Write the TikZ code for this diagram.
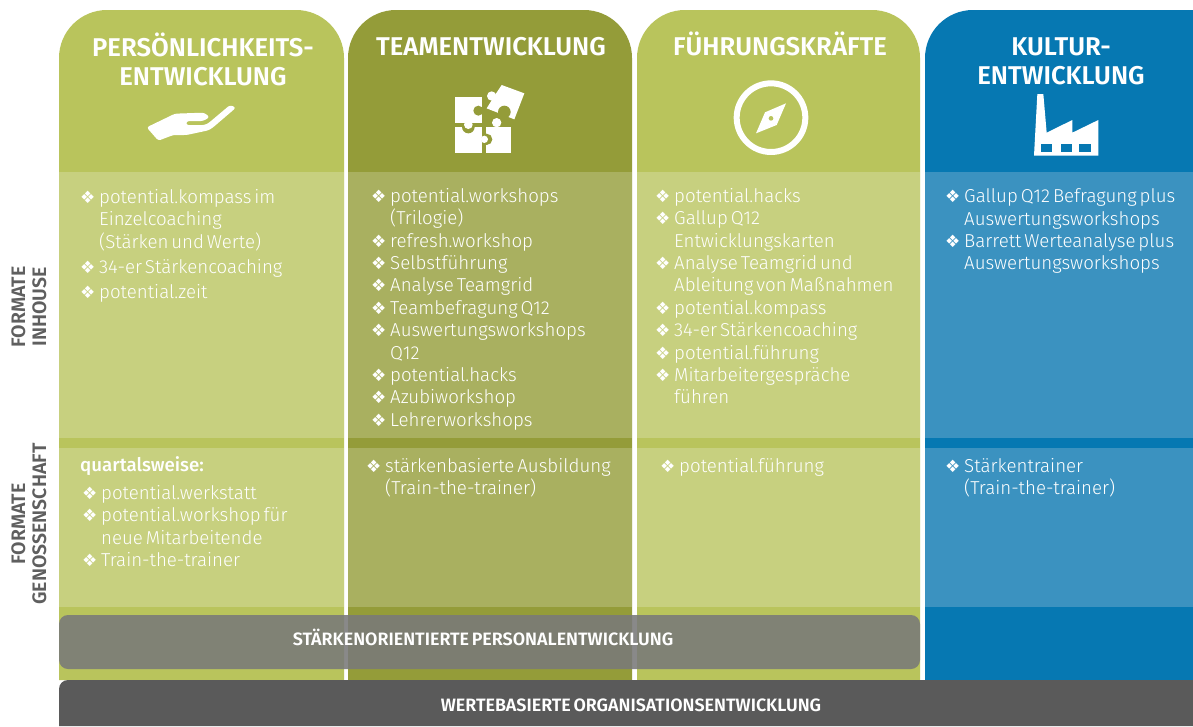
\documentclass[tikz,border=0pt]{standalone}
\usepackage{fontspec}
\setmainfont{Fira Sans Light}[BoldFont={Fira Sans Medium},WordSpace=0.55]
\newfontfamily\headfont{Fira Sans SemiBold}[WordSpace=0.6]
\newfontfamily\dv{DejaVu Sans}
\definecolor{gA}{HTML}{B9C45C}
\definecolor{gApale}{HTML}{C7D07F}
\definecolor{gB}{HTML}{949C39}
\definecolor{gBpale}{HTML}{A9B060}
\definecolor{bC}{HTML}{0678B2}
\definecolor{bCpale}{HTML}{3B92C0}
\definecolor{barD}{HTML}{797979}
\definecolor{barE}{HTML}{5A5A5A}
\definecolor{lab}{HTML}{5F5F5F}
\newcommand{\bul}{\makebox[19pt][l]{\dv\fontsize{17}{17}\selectfont ❖}}
\newcommand{\ind}{\hspace*{19pt}}
\tikzset{x=1pt,y=-1pt,
 head/.style={font=\headfont\fontsize{25.7}{29}\selectfont,text=white,align=center,inner sep=0pt},
 items/.style={font=\fontsize{18.7}{22.4}\selectfont,text=white,align=left,anchor=north west,inner sep=0pt},
 barlabel/.style={font=\headfont\fontsize{17.9}{18}\selectfont,text=white,inner sep=0pt},
 sidelabel/.style={font=\headfont\fontsize{19.5}{21}\selectfont,text=lab,align=center,rotate=90,inner sep=0pt},
 iconpx/.style={x=0.33333pt,y=-0.33333pt}}
\begin{document}
\begin{tikzpicture}
\useasboundingbox (0,0) rectangle (1193,726);
\fill[white] (0,0) rectangle (1193,726);
\newcommand{\col}[4]{%
 \fill[#3] (#1,680) -- (#1,300) [rounded corners=48pt] -- (#1,10) -- (#2,10) -- (#2,300) [sharp corners] -- (#2,680) -- cycle;
 \fill[#4] (#1,172) rectangle (#2,438);
 \fill[#4] (#1,448) rectangle (#2,607);}
\col{59}{344}{gA}{gApale}
\col{348}{632}{gB}{gBpale}
\col{637}{920}{gA}{gApale}
\col{925}{1260}{bC}{bCpale}
\node[head] (h1) at (203,59) {PERSÖNLICHKEITS-\\ENTWICKLUNG};
\node[head] (h2) at (491,46.5) {TEAMENTWICKLUNG};
\node[head] (h3) at (780,44) {FÜHRUNGSKRÄFTE};
\node[head] (h4) at (1061,61.5) {KULTUR-\\ENTWICKLUNG};
% hand
\begin{scope}[shift={(140,95)},iconpx]
\fill[white,rounded corners=2.5pt] (55,137) -- (20,97) -- (105,56) -- (192,53) -- (209,66) -- (190,78) -- (140,78) -- (138,90) -- (195,90) -- (207,83) -- (270,30) -- (288,38) -- (217,99) -- (205,106) -- (140,120) -- (100,120) -- cycle;
\end{scope}
% puzzle
\begin{scope}[shift={(445,80)},iconpx]
\fill[white] (30,140) rectangle (112,220);
\fill[white] (118,178) circle (12);
\fill[gB] (70,141) circle (19);
\fill[white] (30,50) rectangle (112,130);
\fill[white] (70,134) circle (13);
\fill[gB] (100,92) circle (15);
\fill[white] (122,140) rectangle (198,220);
\fill[white] (155,128) circle (14);
\fill[gB] (125,178) circle (17);
\fill[white] (118,178) circle (11);
\fill[white] (170,15) -- (238,40) -- (208,118) -- (125,85) -- (150,45) -- cycle;
\fill[white] (140,48) circle (14);
\fill[gB] (178,96) circle (19);
\end{scope}
% compass
\begin{scope}[shift={(725,75)},iconpx]
\draw[white,line width=6pt] (138,128) circle (103);
\fill[white] (183,85) -- (155,150) -- (93,175) -- (120,112) -- cycle;
\fill[gA] (138,130) circle (7);
\end{scope}
% factory
\begin{scope}[shift={(1025,90)},iconpx]
\fill[white] (37,12) -- (55,12) -- (65,128) -- (142,90) -- (142,128) -- (220,90) -- (220,197) -- (27,197) -- cycle;
\fill[bC] (48,162) rectangle (82,186);
\fill[bC] (107,162) rectangle (140,186);
\fill[bC] (163,162) rectangle (197,186);
\end{scope}
\node[items] (a1) at (80,189) {\bul potential.kompass im\\\ind Einzelcoaching\\\ind (Stärken und Werte)\\[3pt]\bul 34-er Stärkencoaching\\[3pt]\bul potential.zeit};
\node[items] (a2) at (371,188) {\bul potential.workshops\\\ind (Trilogie)\\\bul refresh.workshop\\\bul Selbstführung\\\bul Analyse Teamgrid\\\bul Teambefragung Q12\\\bul Auswertungsworkshops\\\ind Q12\\\bul potential.hacks\\\bul Azubiworkshop\\\bul Lehrerworkshops};
\node[items] (a3) at (655,188) {\bul potential.hacks\\\bul Gallup Q12\\\ind Entwicklungskarten\\\bul Analyse Teamgrid und\\\ind Ableitung von Maßnahmen\\\bul potential.kompass\\\bul 34-er Stärkencoaching\\\bul potential.führung\\\bul Mitarbeitergespräche\\\ind führen};
\node[items] (a4) at (945,188.5) {\bul Gallup Q12 Befragung plus\\\ind Auswertungsworkshops\\\bul Barrett Werteanalyse plus\\\ind Auswertungsworkshops};
\node[items,font=\bfseries\fontsize{18.7}{22.4}\selectfont] (q) at (80,456) {quartalsweise:};
\node[items] (b1) at (82,485) {\bul potential.werkstatt\\\bul potential.workshop für\\\ind neue Mitarbeitende\\\bul Train-the-trainer};
\node[items] (b2) at (366,458) {\bul stärkenbasierte Ausbildung\\\ind (Train-the-trainer)};
\node[items] (b3) at (660,458) {\bul potential.führung};
\node[items] (b4) at (945,458) {\bul Stärkentrainer\\\ind (Train-the-trainer)};
\node[sidelabel] (s1) at (29,307) {FORMATE\\INHOUSE};
\node[sidelabel] (s2) at (29,524) {FORMATE\\GENOSSENSCHAFT};
\fill[barD,opacity=.88,rounded corners=9pt] (59,615) rectangle (920,669);
\fill[barE] (1260,726) -- (59,726) [rounded corners=9pt] -- (59,680) [sharp corners] -- (1260,680) -- cycle;
\node[barlabel] (d) at (483,637.5) {STÄRKENORIENTIERTE PERSONALENTWICKLUNG};
\node[barlabel] (e) at (631,705) {WERTEBASIERTE ORGANISATIONSENTWICKLUNG};
\end{tikzpicture}
\end{document}
